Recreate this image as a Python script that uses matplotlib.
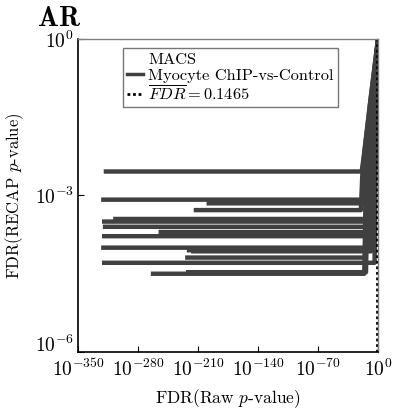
import numpy as np
import matplotlib
matplotlib.use("Agg")
import matplotlib.pyplot as plt
from matplotlib.ticker import FuncFormatter, FixedLocator
from matplotlib.lines import Line2D

plt.rcParams['font.family'] = 'serif'
plt.rcParams['font.serif'] = ['cmr10', 'DejaVu Serif']
plt.rcParams['mathtext.fontset'] = 'cm'
plt.rcParams['axes.unicode_minus'] = False

# Data: exponents (log10) of FDR values
x_start = [-320, -323, -200, -215, -322, -309, -321, -256, -253, -322, -323, -223, -218, -225, -322, -265, -224]
level   = [-2.54, -3.08, -3.15, -3.28, -3.50, -3.45, -3.60, -3.70, -3.75, -3.78, -4.00, -4.05, -4.07, -4.19, -4.29, -4.50, -4.47]
x_end   = [-19, -18, -16, -20, -12, -10, -8, -15, -12, -10, -14, -10, -8, -15, -4, -16, -14]
x_knee1 = [-17, -16, -14, -18, -10, -8, -6, -13, -10, -8, -12, -8, -6, -13, -3, -14, -12]
y_knee1 = [-2.3, -2.4, -2.4, -2.5, -2.3, -2.4, -2.5, -2.4, -2.5, -2.5, -2.6, -2.6, -2.6, -2.5, -2.7, -2.6, -2.6]
x_knee2 = [-9, -8, -7, -9, -5, -4, -3, -7, -5, -4, -6, -4, -3, -7, -2, -7, -6]
y_knee2 = [-1.2, -1.3, -1.3, -1.2, -1.4, -1.4, -1.5, -1.3, -1.4, -1.5, -1.4, -1.5, -1.5, -1.3, -1.6, -1.4, -1.4]
fdr_bar = 0.1465

x_ticks = [-350, -280, -210, -140, -70, 0]
y_ticks = [-6, -3, 0]

fig = plt.figure(figsize=(3.96, 4.15), dpi=100)
ax = fig.add_axes([78/396, 1-352/415, 300/396, 313/415])

col = '#404040'
for xs, lv, xe, xk1, yk1, xk2, yk2 in zip(x_start, level, x_end, x_knee1, y_knee1, x_knee2, y_knee2):
    ax.plot([xs, xe, xk1, xk2, 0], [lv, lv, yk1, yk2, 0], color=col, lw=3.2,
            solid_capstyle='butt', solid_joinstyle='round')

ax.plot([np.log10(fdr_bar)] * 2, [-6, 0], color='black', lw=2.0, ls=(0, (1, 1)))

ax.set_xlim(-350, 0)
ax.set_ylim(-6, 0)
ax.xaxis.set_major_locator(FixedLocator(x_ticks))
ax.yaxis.set_major_locator(FixedLocator(y_ticks))
fmt = FuncFormatter(lambda v, p: r'$10^{%d}$' % int(round(v)))
ax.xaxis.set_major_formatter(fmt)
ax.yaxis.set_major_formatter(fmt)
ax.tick_params(direction='in', length=4, width=0.8, labelsize=14, colors='black')
ax.tick_params(axis='x', pad=5)
ax.tick_params(axis='y', pad=3)

for s in ['top', 'right']:
    ax.spines[s].set_color('#808080')
    ax.spines[s].set_linewidth(1.0)
for s in ['left', 'bottom']:
    ax.spines[s].set_color('black')
    ax.spines[s].set_linewidth(1.2)

ax.set_xlabel(r'FDR(Raw $p$-value)', fontsize=12.5, labelpad=5)
ax.set_ylabel(r'FDR(RECAP $p$-value)', fontsize=12, labelpad=6)

handles = [Line2D([], [], color='none'),
           Line2D([], [], color=col, lw=2.5),
           Line2D([], [], color='black', lw=2.0, ls=(0, (1, 1)))]
labels = ['MACS', 'Myocyte ChIP-vs-Control', r'$\overline{FDR} = 0.1465$']
leg = ax.legend(handles, labels, loc='upper left', bbox_to_anchor=(0.15, 0.97),
                fontsize=11.8, frameon=True, fancybox=False, handlelength=1.0,
                handletextpad=0.3, borderpad=0.25, labelspacing=0.08, borderaxespad=0)
leg.get_frame().set_edgecolor('#555555')
leg.get_frame().set_linewidth(1.0)

fig.text(38/396, 1-26/415, 'AR', fontsize=20, fontweight='bold',
         family=['cmb10', 'DejaVu Serif'])

fig.canvas.draw()
ylabs = ax.get_yticklabels()
ylabs[0].set_verticalalignment('baseline')

fig.savefig('out.png', dpi=100)
